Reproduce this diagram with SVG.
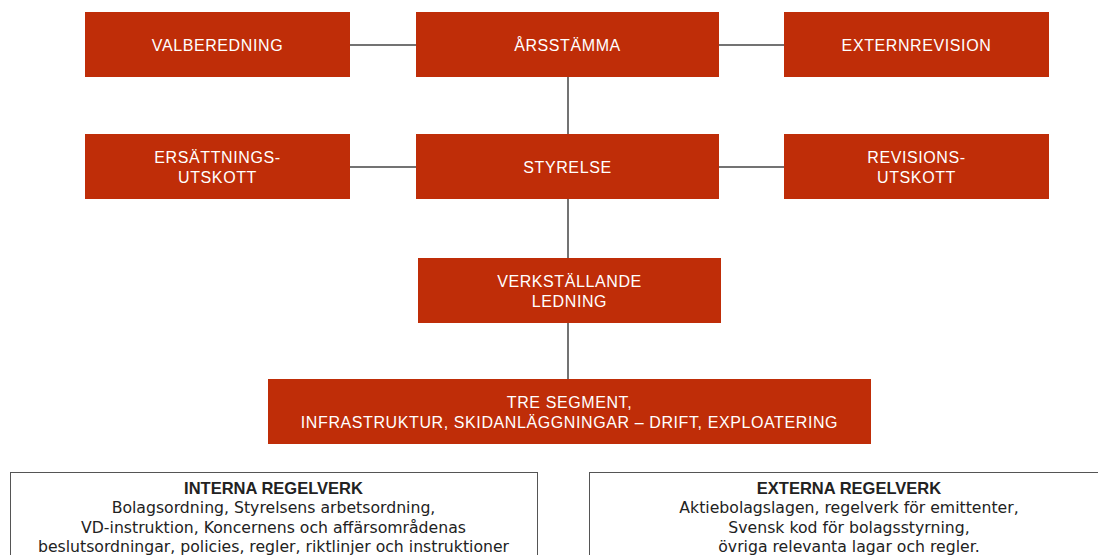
<svg xmlns="http://www.w3.org/2000/svg" width="1098" height="555" viewBox="0 0 1098 555">
<style>
.box{fill:#BF2D08}
.lbl{font-family:"Liberation Sans",Arial,sans-serif;font-size:16px;fill:#fff;text-anchor:middle;letter-spacing:0.6px}
.con{stroke:#444;stroke-width:1.5;fill:none}
.frame{fill:none;stroke:#555;stroke-width:1}
.hd{font-family:"Liberation Sans",Arial,sans-serif;font-size:16.5px;font-weight:bold;fill:#222;text-anchor:middle}
.bt{font-family:"DejaVu Sans",sans-serif;font-size:15.7px;fill:#222;text-anchor:middle}
</style>
<rect width="1098" height="555" fill="#fff"/>
<g id="connectors">
<line class="con" x1="350" y1="45" x2="416" y2="45"/>
<line class="con" x1="719" y1="45" x2="784" y2="45"/>
<line class="con" x1="350" y1="167" x2="416" y2="167"/>
<line class="con" x1="719" y1="167" x2="784" y2="167"/>
<line class="con" x1="568" y1="77" x2="568" y2="134"/>
<line class="con" x1="568" y1="199" x2="568" y2="258"/>
<line class="con" x1="568" y1="323" x2="568" y2="379"/>
</g>
<g id="valberedning"><rect class="box" x="85" y="12" width="265" height="65"/><text class="lbl" x="217.5" y="51">VALBEREDNING</text></g>
<g id="arsstamma"><rect class="box" x="416" y="12" width="303" height="65"/><text class="lbl" x="567.5" y="51">ÅRSSTÄMMA</text></g>
<g id="externrevision"><rect class="box" x="784" y="12" width="265" height="65"/><text class="lbl" x="916.5" y="51">EXTERNREVISION</text></g>
<g id="ersattningsutskott"><rect class="box" x="85" y="134" width="265" height="65"/><text class="lbl" x="217.5" y="163">ERSÄTTNINGS-</text><text class="lbl" x="217.5" y="183">UTSKOTT</text></g>
<g id="styrelse"><rect class="box" x="416" y="134" width="303" height="65"/><text class="lbl" x="567.5" y="173">STYRELSE</text></g>
<g id="revisionsutskott"><rect class="box" x="784" y="134" width="265" height="65"/><text class="lbl" x="916.5" y="163">REVISIONS-</text><text class="lbl" x="916.5" y="183">UTSKOTT</text></g>
<g id="verkstallande"><rect class="box" x="418" y="258" width="303" height="65"/><text class="lbl" x="569.5" y="287">VERKSTÄLLANDE</text><text class="lbl" x="569.5" y="307">LEDNING</text></g>
<g id="segment"><rect class="box" x="268" y="379" width="603" height="65"/><text class="lbl" x="569.5" y="408">TRE SEGMENT,</text><text class="lbl" x="569.5" y="428">INFRASTRUKTUR, SKIDANLÄGGNINGAR – DRIFT, EXPLOATERING</text></g>
<g id="interna">
<rect class="frame" x="10.5" y="472.5" width="527" height="120"/>
<text class="hd" x="273.5" y="494">INTERNA REGELVERK</text>
<text class="bt" x="273.5" y="513">Bolagsordning, Styrelsens arbetsordning,</text>
<text class="bt" x="273.5" y="532.5">VD-instruktion, Koncernens och affärsområdenas</text>
<text class="bt" x="273.5" y="552">beslutsordningar, policies, regler, riktlinjer och instruktioner</text>
</g>
<g id="externa">
<rect class="frame" x="589.5" y="472.5" width="540" height="120"/>
<text class="hd" x="849" y="494">EXTERNA REGELVERK</text>
<text class="bt" x="849" y="513">Aktiebolagslagen, regelverk för emittenter,</text>
<text class="bt" x="849" y="532.5">Svensk kod för bolagsstyrning,</text>
<text class="bt" x="849" y="552">övriga relevanta lagar och regler.</text>
</g>
</svg>
